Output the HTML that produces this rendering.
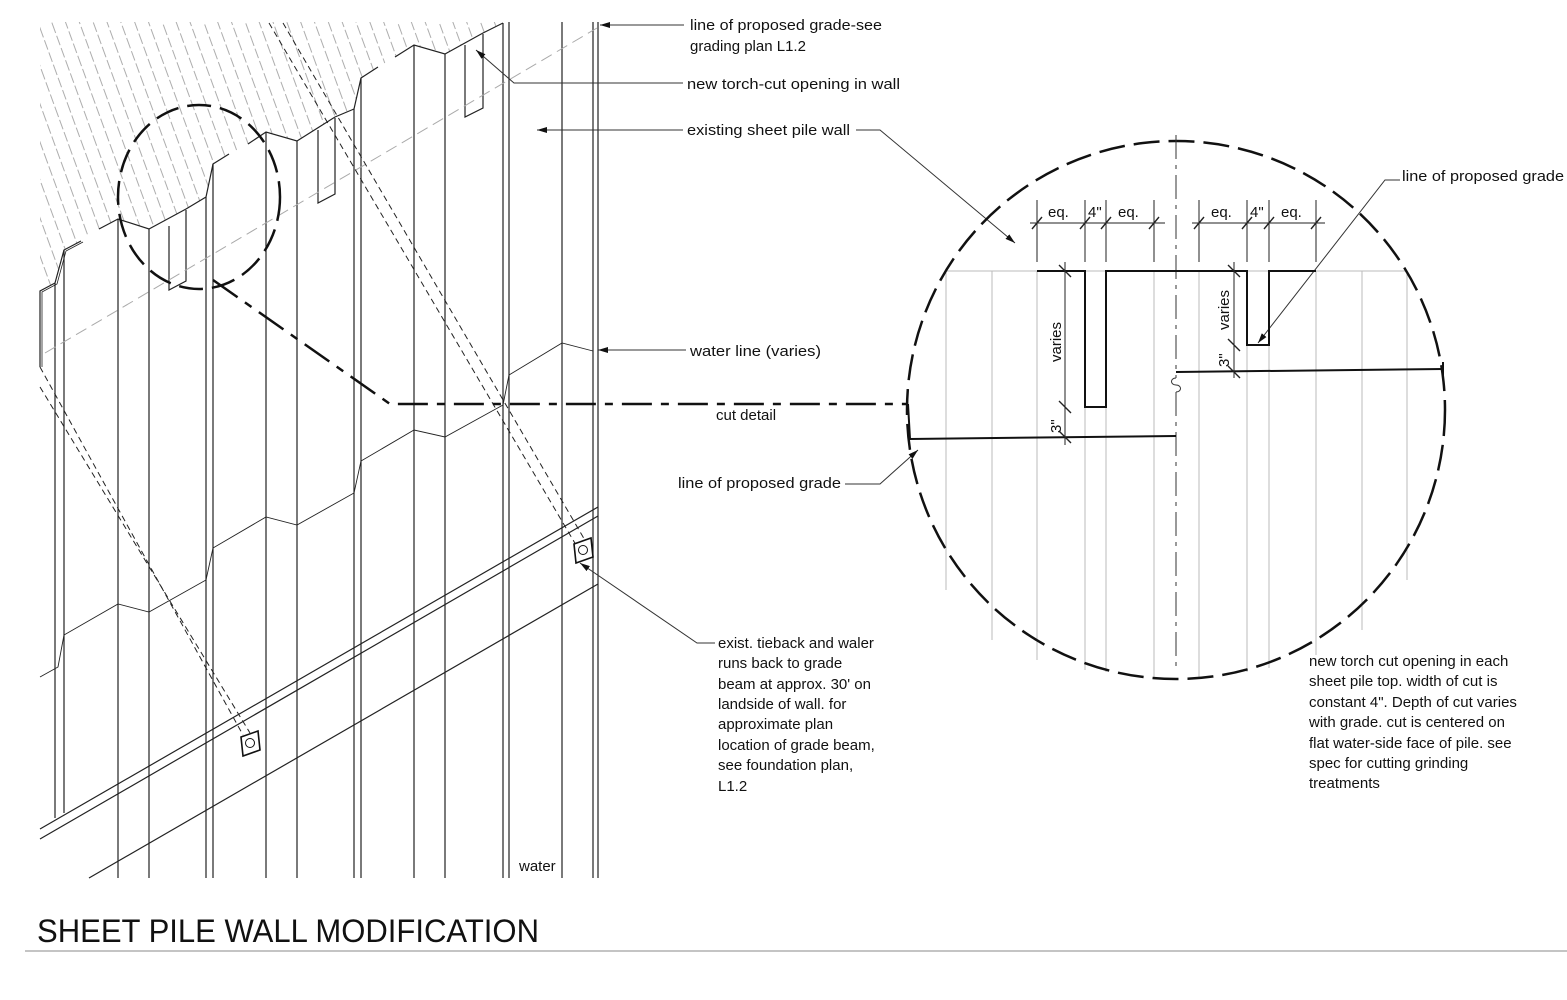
<!DOCTYPE html>
<html><head><meta charset="utf-8"><style>
html,body{margin:0;padding:0;background:#fff;}
svg{display:block;}
text{font-family:"Liberation Sans",Arial,sans-serif;fill:#111;}
</style></head><body>
<svg width="1567" height="1000" viewBox="0 0 1567 1000" xmlns="http://www.w3.org/2000/svg">
<defs>
<pattern id="hat" width="13" height="40" patternUnits="userSpaceOnUse" patternTransform="rotate(-20)">
<line x1="2" y1="0" x2="2" y2="40" stroke="#999" stroke-width="0.8" stroke-dasharray="10 3"/>
</pattern>
<clipPath id="hc"><polygon points="40,22 503,22 483,33 445,54 414,45 395,57 378,67 361,78 354,109 335,117 297,141 266,132 248,144 229,154 213,164 206,197 186,209 149,229 118,219 99,229 81,241 64,250 55,283 40,291"/></clipPath>
<marker id="ar" markerWidth="10" markerHeight="6" refX="10" refY="3" orient="auto" markerUnits="userSpaceOnUse"><path d="M0,0 L10,3 L0,6z" fill="#111"/></marker>
</defs>
<rect x="40" y="22" width="470" height="300" fill="url(#hat)" clip-path="url(#hc)"/>

<g stroke="#222" stroke-width="1.2" fill="none">
<!-- top profile -->
<polyline points="40,367 40,291 55,283 64,250 81,241"/>
<polyline points="42,367 42,292 57,284 66,251 83,242" stroke-width="0.8"/>
<polyline points="99,229 118,219 149,229 186,209 206,197 213,164 229,154"/>
<polyline points="248,144 266,132 297,141 335,117 354,109 361,78 378,67"/>
<polyline points="395,57 414,45 445,54 483,33 503,23"/>
<!-- notches -->
<polyline points="169,226 169,290 186,281 186,210"/>
<polyline points="318,130 318,203 335,194 335,118"/>
<polyline points="465,45 465,117 483,108 483,34"/>
<!-- verticals -->
<line x1="55" y1="283" x2="55" y2="818"/><line x1="64" y1="250" x2="64" y2="813"/>
<line x1="118" y1="219" x2="118" y2="878"/><line x1="149" y1="229" x2="149" y2="878"/>
<line x1="206" y1="197" x2="206" y2="878"/><line x1="213" y1="164" x2="213" y2="878"/>
<line x1="266" y1="132" x2="266" y2="878"/><line x1="297" y1="141" x2="297" y2="878"/>
<line x1="354" y1="109" x2="354" y2="878"/><line x1="361" y1="78" x2="361" y2="878"/>
<line x1="414" y1="45" x2="414" y2="878"/><line x1="445" y1="54" x2="445" y2="878"/>
<line x1="503" y1="23" x2="503" y2="878"/><line x1="509" y1="22" x2="509" y2="878"/>
<line x1="562" y1="22" x2="562" y2="878"/><line x1="593" y1="22" x2="593" y2="878"/><line x1="598" y1="22" x2="598" y2="878"/>
<!-- water line -->
<polyline stroke-width="0.9" points="40,677 58,667 64,635 118,604 149,612 206,580 213,548 266,517 297,525 354,493 361,461 414,430 445,437 503,405 509,375 562,343 593,351"/>
<!-- waler -->
<line x1="40" y1="829" x2="598" y2="507"/>
<line x1="40" y1="839" x2="598" y2="516"/>
<line x1="89" y1="878" x2="598" y2="584"/>
</g>
<!-- gray dashed grade line -->
<line x1="45" y1="353" x2="597" y2="28" stroke="#aaa" stroke-width="1" stroke-dasharray="12 6"/>
<!-- tiebacks -->
<g stroke="#222" stroke-width="1" stroke-dasharray="6 4" fill="none">
<line x1="40" y1="367" x2="243" y2="735"/><line x1="40" y1="387" x2="250" y2="733"/>
<line x1="269" y1="23" x2="576" y2="545"/><line x1="283" y1="23" x2="586" y2="542"/>
</g>
<g stroke="#111" stroke-width="1.6" fill="#fff">
<polygon points="241,737 258,731 260,750 243,756"/>
<polygon points="574,544 591,538 593,557 576,563"/>
</g>
<circle cx="250" cy="743" r="4.5" fill="none" stroke="#111" stroke-width="1"/>
<circle cx="583" cy="550" r="4.5" fill="none" stroke="#111" stroke-width="1"/>
<!-- ellipse -->
<ellipse cx="199" cy="197" rx="81" ry="92" fill="none" stroke="#111" stroke-width="2.5" stroke-dasharray="24 9"/>
<polyline points="213,280 390,404 908,404" fill="none" stroke="#111" stroke-width="2.5" stroke-dasharray="30 9 8 9"/>
<text x="716" y="420" font-size="15">cut detail</text>
<text x="519" y="871" font-size="15">water</text>

<!-- leaders left -->
<g stroke="#333" stroke-width="1" fill="none">
<line x1="684" y1="25" x2="600" y2="25" marker-end="url(#ar)"/>
<polyline points="683,83 514,83 476,50" marker-end="url(#ar)"/>
<line x1="683" y1="130" x2="537" y2="130" marker-end="url(#ar)"/>
<polyline points="856,130 880,130 1015,243" marker-end="url(#ar)"/>
<line x1="686" y1="350" x2="598" y2="350" marker-end="url(#ar)"/>
<polyline points="845,484 880,484 918,450" marker-end="url(#ar)"/>
<polyline points="715,643 697,643 580,563" marker-end="url(#ar)"/>
<polyline points="1400,180 1385,180 1258,343" marker-end="url(#ar)"/>
</g>
<g font-size="15">
<text x="690" y="30" textLength="192" lengthAdjust="spacingAndGlyphs">line of proposed grade-see</text>
<text x="690" y="51">grading plan L1.2</text>
<text x="687" y="89" textLength="213" lengthAdjust="spacingAndGlyphs">new torch-cut opening in wall</text>
<text x="687" y="135" textLength="163" lengthAdjust="spacingAndGlyphs">existing sheet pile wall</text>
<text x="690" y="356" textLength="131" lengthAdjust="spacingAndGlyphs">water line (varies)</text>
<text x="678" y="488" textLength="163" lengthAdjust="spacingAndGlyphs">line of proposed grade</text>
<text x="1402" y="181" textLength="162" lengthAdjust="spacingAndGlyphs">line of proposed grade</text>
</g>
<g font-size="15">
<text x="718" y="648">exist. tieback and waler</text>
<text x="718" y="668">runs back to grade</text>
<text x="718" y="689">beam at approx. 30' on</text>
<text x="718" y="709">landside of wall. for</text>
<text x="718" y="729">approximate plan</text>
<text x="718" y="750">location of grade beam,</text>
<text x="718" y="770">see foundation plan,</text>
<text x="718" y="791">L1.2</text>
</g>
<g font-size="15">
<text x="1309" y="666">new torch cut opening in each</text>
<text x="1309" y="686">sheet pile top. width of cut is</text>
<text x="1309" y="707">constant 4". Depth of cut varies</text>
<text x="1309" y="727">with grade. cut is centered on</text>
<text x="1309" y="748">flat water-side face of pile. see</text>
<text x="1309" y="768">spec for cutting grinding</text>
<text x="1309" y="788">treatments</text>
</g>

<!-- detail circle -->
<g stroke="#bbb" stroke-width="1">
<line x1="946" y1="271" x2="1407" y2="271"/>
<line x1="946" y1="271" x2="946" y2="590"/><line x1="992" y1="271" x2="992" y2="640"/>
<line x1="1037" y1="271" x2="1037" y2="660"/><line x1="1085" y1="407" x2="1085" y2="670"/>
<line x1="1106" y1="407" x2="1106" y2="672"/><line x1="1154" y1="271" x2="1154" y2="678"/>
<line x1="1199" y1="271" x2="1199" y2="678"/><line x1="1247" y1="345" x2="1247" y2="672"/>
<line x1="1269" y1="345" x2="1269" y2="668"/><line x1="1316" y1="271" x2="1316" y2="655"/>
<line x1="1362" y1="271" x2="1362" y2="630"/><line x1="1407" y1="271" x2="1407" y2="580"/>
</g>
<circle cx="1176" cy="410" r="269" fill="none" stroke="#111" stroke-width="2.5" stroke-dasharray="26 9"/>
<line x1="1176" y1="135" x2="1176" y2="378" stroke="#333" stroke-width="1" stroke-dasharray="24 6 4 6"/>
<line x1="1176" y1="392" x2="1176" y2="672" stroke="#333" stroke-width="1" stroke-dasharray="24 6 4 6"/>
<path d="M1176,378 c-6,0 -6,7 0,7 c6,0 6,7 0,7" fill="none" stroke="#333" stroke-width="1"/>
<g stroke="#111" stroke-width="2" fill="none">
<polyline points="1037,271 1085,271 1085,407 1106,407 1106,271 1247,271 1247,345 1269,345 1269,271 1316,271"/>
<polyline points="908,404 910,439 1176,436"/>
<polyline points="1176,372 1443,369"/>
<line x1="1443" y1="362" x2="1443" y2="378"/>
</g>
<g stroke="#222" stroke-width="1" fill="none">
<line x1="1030" y1="223" x2="1165" y2="223"/>
<line x1="1192" y1="223" x2="1325" y2="223"/>
<line x1="1037" y1="200" x2="1037" y2="262"/><line x1="1085" y1="200" x2="1085" y2="262"/>
<line x1="1106" y1="200" x2="1106" y2="262"/><line x1="1154" y1="200" x2="1154" y2="262"/>
<line x1="1199" y1="200" x2="1199" y2="262"/><line x1="1247" y1="200" x2="1247" y2="262"/>
<line x1="1269" y1="200" x2="1269" y2="262"/><line x1="1316" y1="200" x2="1316" y2="262"/>
<path d="M1032,229 l10,-12 M1080,229 l10,-12 M1101,229 l10,-12 M1149,229 l10,-12 M1194,229 l10,-12 M1242,229 l10,-12 M1264,229 l10,-12 M1311,229 l10,-12" stroke-width="1.4"/>
<line x1="1065" y1="262" x2="1065" y2="445"/>
<line x1="1234" y1="262" x2="1234" y2="378"/>
<path d="M1059,265 l12,12 M1059,401 l12,12 M1059,431 l12,12 M1228,265 l12,12 M1228,339 l12,12 M1228,366 l12,12" stroke-width="1.4"/>
</g>
<g font-size="15">
<text x="1048" y="217">eq.</text><text x="1088" y="217">4"</text><text x="1118" y="217">eq.</text>
<text x="1211" y="217">eq.</text><text x="1250" y="217">4"</text><text x="1281" y="217">eq.</text>
<text transform="translate(1061,362) rotate(-90)">varies</text>
<text transform="translate(1061,433) rotate(-90)">3"</text>
<text transform="translate(1229,330) rotate(-90)">varies</text>
<text transform="translate(1229,367) rotate(-90)">3"</text>
</g>

<text x="37" y="942" font-size="32" textLength="502" lengthAdjust="spacingAndGlyphs">SHEET PILE WALL MODIFICATION</text>
<line x1="25" y1="951" x2="1567" y2="951" stroke="#888" stroke-width="1"/>
</svg>
</body></html>
